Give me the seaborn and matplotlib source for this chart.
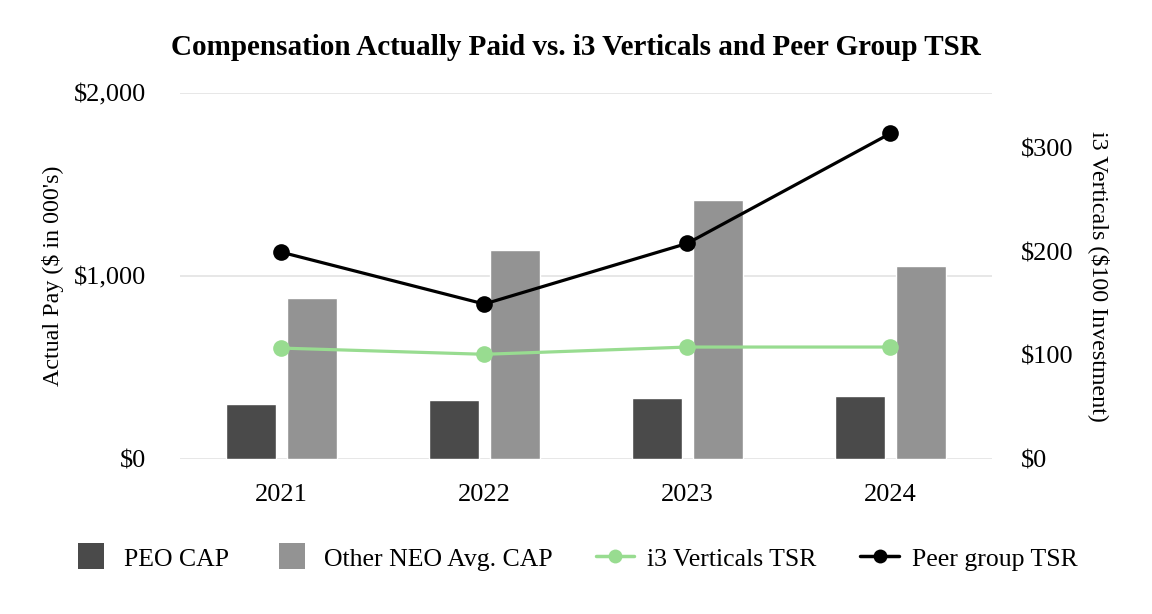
import matplotlib
matplotlib.use("Agg")
import matplotlib.pyplot as plt
import matplotlib.ticker as mticker
from matplotlib.lines import Line2D
import numpy as np
import pandas as pd
import seaborn as sns

years = ["2021", "2022", "2023", "2024"]
peo_cap = [300, 322, 333, 344]
neo_cap = [880, 1142, 1415, 1055]
i3_tsr = [107, 101, 108, 108]
peer_tsr = [199.5, 149.5, 208, 314]

PEO_COLOR = "#4a4a4a"
NEO_COLOR = "#939393"
I3_COLOR = "#98dc90"
PEER_COLOR = "#000000"

sns.set_theme(style="white")
plt.rcParams["font.family"] = ["Liberation Serif", "DejaVu Serif"]
plt.rcParams["text.color"] = "black"
plt.rcParams["axes.labelcolor"] = "black"
plt.rcParams["xtick.color"] = "black"
plt.rcParams["ytick.color"] = "black"

bars = pd.DataFrame(
    {
        "year": years * 2,
        "value": peo_cap + neo_cap,
        "series": ["PEO CAP"] * 4 + ["Other NEO Avg. CAP"] * 4,
    }
)

fig = plt.figure(figsize=(11.52, 6.14), dpi=100)
ax = fig.add_axes([0.156, 0.2524, 0.705, 0.5961])

sns.barplot(
    data=bars,
    x="year",
    y="value",
    hue="series",
    palette=[PEO_COLOR, NEO_COLOR],
    width=0.6,
    gap=0.18,
    saturation=1,
    legend=False,
    ax=ax,
)
ax.set_ylim(0, 2000)
ax.set_xlim(-0.5, 3.5)
ax.yaxis.set_major_locator(mticker.MultipleLocator(1000))
ax.yaxis.set_major_formatter(mticker.FuncFormatter(lambda v, _: f"${v:,.0f}"))
ax.grid(axis="y", color="#e3e3e3", linewidth=1.2)
ax.set_axisbelow(True)
ax.set_xlabel("")
ax.set_ylabel("Actual Pay ($ in 000's)", fontsize=17.3, labelpad=7)
ax.tick_params(axis="y", labelsize=19, length=0, pad=24)
ax.tick_params(axis="x", labelsize=19, length=0, pad=18)
for s in ax.spines.values():
    s.set_visible(False)

# TSR lines on the secondary axis
ax2 = ax.twinx()
xpos = np.arange(len(years))
sns.lineplot(x=xpos, y=i3_tsr, color=I3_COLOR, linewidth=2.3, marker="o",
             markersize=12, markeredgewidth=0, ax=ax2)
sns.lineplot(x=xpos, y=peer_tsr, color=PEER_COLOR, linewidth=2.3, marker="o",
             markersize=12, markeredgewidth=0, ax=ax2)
ax2.set_ylim(0, 353)
ax2.set_xlim(-0.5, 3.5)
ax2.set_yticks([0, 100, 200, 300])
ax2.yaxis.set_major_formatter(mticker.FuncFormatter(lambda v, _: f"${v:,.0f}"))
ax2.set_ylabel("i3 Verticals ($100 Investment)", fontsize=17.3, rotation=-90,
               labelpad=26)
ax2.tick_params(axis="y", labelsize=19, length=0, pad=21)
ax2.grid(False)
for s in ax2.spines.values():
    s.set_visible(False)

fig.suptitle("Compensation Actually Paid vs. i3 Verticals and Peer Group TSR",
             fontsize=21, fontweight="bold", y=0.945)

handles = [
    Line2D([0], [0], linestyle="none", marker="s", markersize=19,
           markerfacecolor=PEO_COLOR, markeredgewidth=0, label="PEO CAP"),
    Line2D([0], [0], linestyle="none", marker="s", markersize=19,
           markerfacecolor=NEO_COLOR, markeredgewidth=0, label="Other NEO Avg. CAP"),
    Line2D([0], [0], color=I3_COLOR, linewidth=2.5, marker="o", markersize=10,
           markeredgewidth=0, label="i3 Verticals TSR"),
    Line2D([0], [0], color=PEER_COLOR, linewidth=2.5, marker="o", markersize=10,
           markeredgewidth=0, label="Peer group TSR"),
]
fig.legend(handles=handles, loc="center", bbox_to_anchor=(0.499, 0.090), ncol=4,
           frameon=False, fontsize=18.5, handlelength=1.5, handleheight=1.0,
           columnspacing=1.7, handletextpad=0.5)

fig.savefig("out.png", dpi=100)
